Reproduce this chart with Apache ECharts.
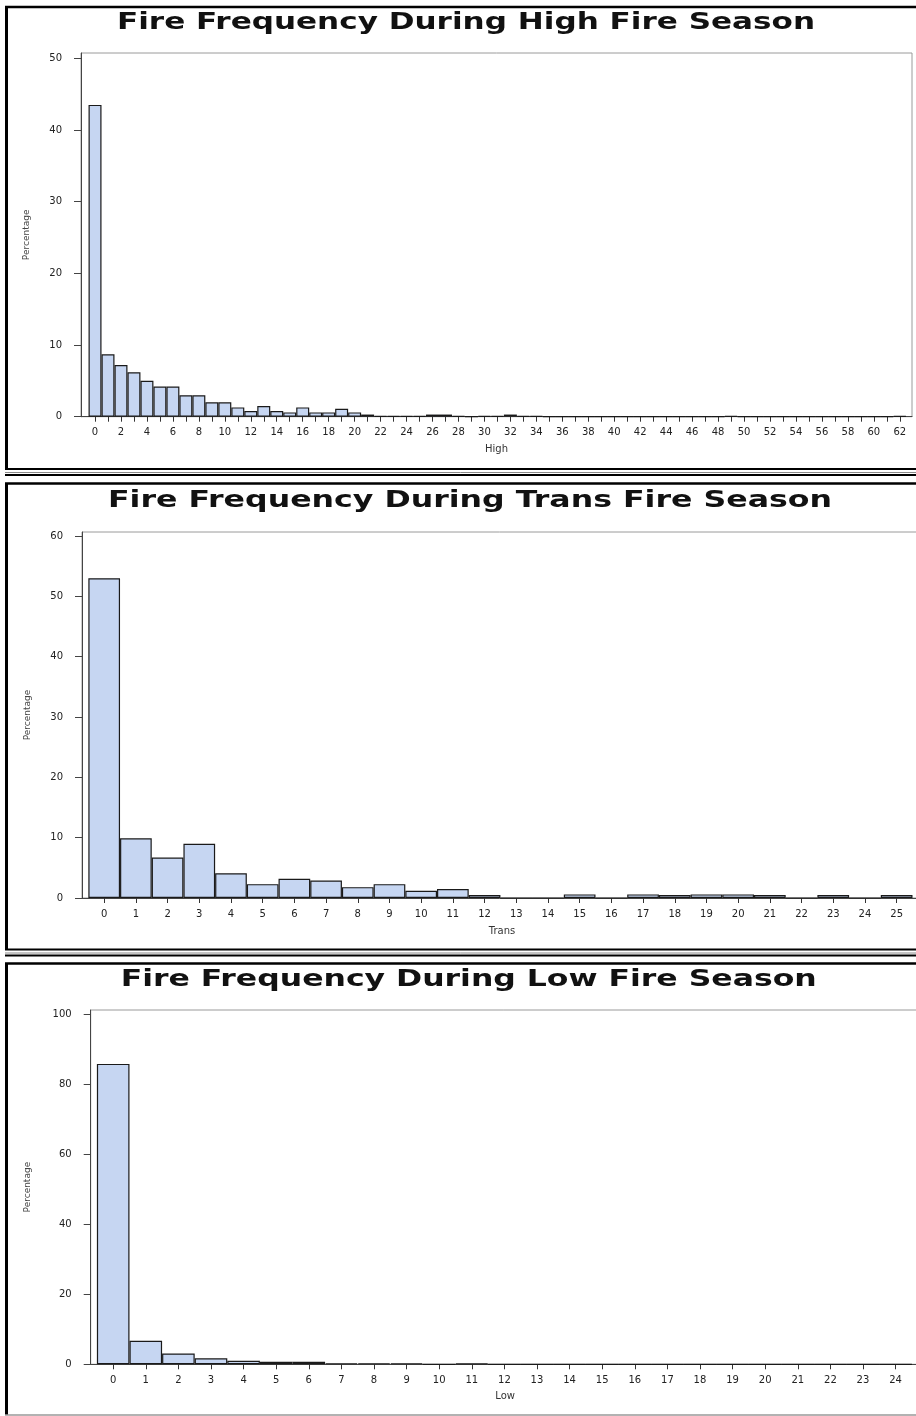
<!DOCTYPE html>
<html>
<head>
<meta charset="utf-8">
<script src="https://cdn.jsdelivr.net/npm/echarts@6/dist/echarts.min.js"></script>
<style>
html,body{margin:0;padding:0;background:#fff;}
#chart{width:916px;height:1416px;}
</style>
</head>
<body>
<div id="chart"></div>
<script>
// ---------- DATA ----------
const titles = [
  'Fire Frequency During High Fire Season',
  'Fire Frequency During Trans Fire Season',
  'Fire Frequency During Low Fire Season'
];
const xNames = ['High', 'Trans', 'Low'];
const yName = 'Percentage';

const highBins = [0,1,2,3,4,5,6,7,8,9,10,11,12,13,14,15,16,17,18,19,20,21,22,23,24,25,26,27,28,29,30,31,32,33,34,35,36,37,38,39,40,41,42,43,44,45,46,47,48,49,50,51,52,53,54,55,56,57,58,59,60,61,62];
const highValues = [43.5,8.7,7.2,6.2,5.0,4.2,4.2,3.0,3.0,2.0,2.0,1.3,0.8,1.5,0.8,0.6,1.3,0.6,0.6,1.1,0.6,0.3,0.1,0.1,0.1,0.1,0.3,0.3,0.1,0,0.1,0.1,0.3,0.1,0.1,0,0,0,0,0,0,0,0,0,0,0,0,0,0,0.1,0,0,0,0,0,0,0,0,0,0,0,0,0.1];
const highTickLabels = [0,2,4,6,8,10,12,14,16,18,20,22,24,26,28,30,32,34,36,38,40,42,44,46,48,50,52,54,56,58,60,62];
const highYTicks = [0,10,20,30,40,50];

const transBins = [0,1,2,3,4,5,6,7,8,9,10,11,12,13,14,15,16,17,18,19,20,21,22,23,24,25];
const transValues = [53.0,9.9,6.7,9.0,4.1,2.3,3.2,2.9,1.8,2.3,1.2,1.5,0.5,0,0,0.6,0,0.6,0.5,0.6,0.6,0.5,0,0.5,0,0.5];
const transTickLabels = [0,1,2,3,4,5,6,7,8,9,10,11,12,13,14,15,16,17,18,19,20,21,22,23,24,25];
const transYTicks = [0,10,20,30,40,50,60];

const lowBins = [0,1,2,3,4,5,6,7,8,9,10,11,12,13,14,15,16,17,18,19,20,21,22,23,24];
const lowValues = [85.8,6.7,3.1,1.7,1.0,0.7,0.7,0.3,0.3,0.3,0,0.2,0,0,0,0,0,0,0,0,0,0,0,0,0];
const lowTickLabels = [0,1,2,3,4,5,6,7,8,9,10,11,12,13,14,15,16,17,18,19,20,21,22,23,24];
const lowYTicks = [0,20,40,60,80,100];

// ---------- LAYOUT / STYLE ----------
const FONT = '"DejaVu Sans", "Liberation Sans", sans-serif';
const panels = [
  {bins: highBins, values: highValues, labels: highTickLabels, yTicks: highYTicks,
   grid: {left: 81, top: 53, width: 831, height: 363.7},
   xMin: -1.08, xMax: 62.94, yMax: 50.74, yNameGap: 50, xNameGap: 28,
   title: {cx: 466, cy: 23.5, w: 698}},
  {bins: transBins, values: transValues, labels: transTickLabels, yTicks: transYTicks,
   grid: {left: 82, top: 532, width: 840, height: 366},
   xMin: -0.70, xMax: 25.80, yMax: 60.67, yNameGap: 50, xNameGap: 28,
   title: {cx: 470, cy: 501, w: 724}},
  {bins: lowBins, values: lowValues, labels: lowTickLabels, yTicks: lowYTicks,
   grid: {left: 90.7, top: 1010, width: 829, height: 354.3},
   xMin: -0.69, xMax: 24.74, yMax: 101.2, yNameGap: 59, xNameGap: 27,
   title: {cx: 468.7, cy: 980, w: 696}}
];

const measureCtx = document.createElement('canvas').getContext('2d');
const TITLE_FONT = 'bold 23px "DejaVu Sans"';
measureCtx.font = TITLE_FONT;

const grids = [], xAxes = [], yAxes = [], series = [], graphics = [];

panels.forEach((p, i) => {
  grids.push(Object.assign({show: true, borderColor: '#9a9a9a', borderWidth: 1, backgroundColor: '#fff',
    outerBoundsMode: 'none', containLabel: false}, p.grid));
  xAxes.push({
    type: 'value', gridIndex: i, min: p.xMin, max: p.xMax,
    name: xNames[i], nameLocation: 'middle', nameGap: p.xNameGap,
    nameTextStyle: {fontSize: 10, color: '#333', fontFamily: FONT},
    axisLine: {show: true, onZero: false, lineStyle: {color: '#444', width: 1}},
    axisTick: {show: true, customValues: p.bins, length: 5, lineStyle: {color: '#333'}},
    axisLabel: {customValues: p.labels, margin: 11, fontSize: 10, color: '#222', fontFamily: FONT},
    splitLine: {show: false}
  });
  yAxes.push({
    type: 'value', gridIndex: i, min: 0, max: p.yMax,
    name: yName, nameLocation: 'middle', nameGap: p.yNameGap, nameRotate: 90,
    nameTextStyle: {fontSize: 9, color: '#444', fontFamily: FONT},
    axisLine: {show: true, onZero: false, lineStyle: {color: '#444', width: 1}},
    axisTick: {show: true, customValues: p.yTicks, length: 7, lineStyle: {color: '#444'}},
    axisLabel: {customValues: p.yTicks, margin: 19, fontSize: 10, color: '#222', fontFamily: FONT},
    splitLine: {show: false}
  });
  series.push({
    type: 'bar', xAxisIndex: i, yAxisIndex: i,
    data: p.bins.map((b, k) => [b, p.values[k]]),
    barWidth: '100%',
    itemStyle: {color: '#c6d6f2', borderColor: '#1a1a1a', borderWidth: 1.2},
    emphasis: {disabled: true},
    animation: false
  });
  const tw = measureCtx.measureText(titles[i]).width;
  graphics.push({
    type: 'text', x: p.title.cx, y: p.title.cy, scaleX: p.title.w / tw, z: 10,
    style: {text: titles[i], x: 0, y: 0, font: TITLE_FONT, fill: '#111',
            textAlign: 'center', textVerticalAlign: 'middle', align: 'center', verticalAlign: 'middle'}
  });
});

// panel frames (top/left thick black borders, bottom double rule)
const frames = [
  {top: 7, bottom: 469},
  {top: 483.5, bottom: 949.5},
  {top: 963.5, bottom: null}
];
frames.forEach(f => {
  graphics.push({type: 'line', shape: {x1: 5, y1: f.top, x2: 916, y2: f.top}, style: {stroke: '#000', lineWidth: 2.5}});
  const yb = f.bottom === null ? 1415 : f.bottom;
  graphics.push({type: 'line', shape: {x1: 6.5, y1: f.top, x2: 6.5, y2: yb}, style: {stroke: '#000', lineWidth: 3}});
  if (f.bottom !== null) {
    graphics.push({type: 'line', shape: {x1: 5, y1: f.bottom, x2: 916, y2: f.bottom}, style: {stroke: '#000', lineWidth: 2}});
    graphics.push({type: 'line', shape: {x1: 5, y1: f.bottom + 3.5, x2: 916, y2: f.bottom + 3.5}, style: {stroke: '#8a8a8a', lineWidth: 1}});
    graphics.push({type: 'line', shape: {x1: 5, y1: f.bottom + 6, x2: 916, y2: f.bottom + 6}, style: {stroke: '#000', lineWidth: 2}});
  } else {
    graphics.push({type: 'line', shape: {x1: 5, y1: 1415, x2: 916, y2: 1415}, style: {stroke: '#999', lineWidth: 1.5}});
  }
});

const chart = echarts.init(document.getElementById('chart'), null, {renderer: 'canvas', width: 916, height: 1416});
chart.setOption({
  animation: false,
  backgroundColor: '#fff',
  grid: grids,
  xAxis: xAxes,
  yAxis: yAxes,
  series: series,
  graphic: graphics
});
</script>
</body>
</html>
